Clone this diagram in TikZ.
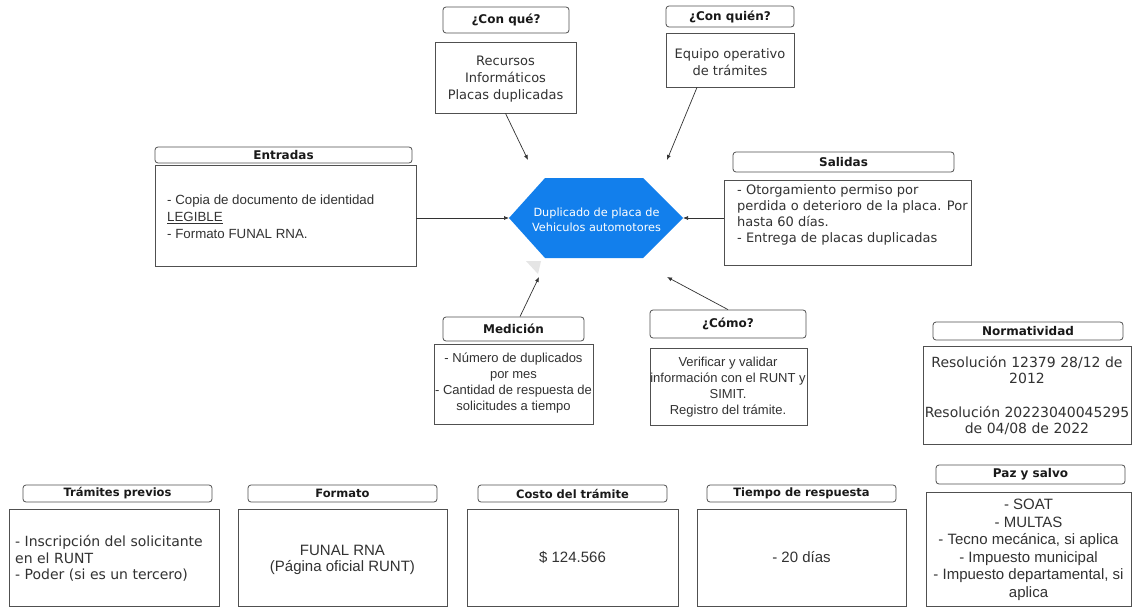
\documentclass[tikz,border=0pt]{standalone}
\usepackage{fontspec}
\setmainfont{Liberation Sans}
\newfontfamily\verd{DejaVu Sans}
\newfontfamily\arl{Liberation Sans}
\usetikzlibrary{arrows.meta,calc}
\definecolor{hexblue}{RGB}{18,127,236}
\definecolor{edge}{RGB}{80,80,80}
\definecolor{ink}{RGB}{50,50,50}
\tikzset{
 hdr/.style={draw=edge, line width=0.8pt, rounded corners=3pt, fill=white, inner sep=0pt, text=black!90, font=\verd\bfseries\fontsize{12}{14}\selectfont},
 hdrsm/.style={hdr, font=\verd\bfseries\fontsize{11.5}{14}\selectfont},
 bodybox/.style={draw=edge, line width=0.8pt, inner sep=0pt, fill=white},
 vtxt/.style={inner sep=0pt, text=ink, font=\verd\fontsize{13}{16.7}\selectfont},
 atxt/.style={inner sep=0pt, text=ink, font=\arl\fontsize{13}{16}\selectfont},
 conn/.style={draw=ink, line width=0.7pt, -{Latex[length=5pt,width=4pt]}},
}
\begin{document}
\begin{tikzpicture}[x=1pt,y=-1pt]
\useasboundingbox (0,0) rectangle (1132,607);
\fill[white] (0,0) rectangle (1132,607);

% ---------- centre hexagon ----------
\coordinate (hL) at (509,218);
\coordinate (hR) at (683,218);
\fill[hexblue] (hL) -- (545,178) -- (643,178) -- (hR) -- (643,258) -- (545,258) -- cycle;
\node[inner sep=0pt, text=white, align=center, font=\verd\fontsize{11.3}{15}\selectfont] (hex) at (596.5,220) {Duplicado de placa de\\Vehiculos automotores};
\fill[black!10] (526,261) -- (541,261) -- (538,274) -- cycle;

% ---------- ¿Con qué? ----------
\node[hdr, minimum width=126pt, minimum height=26pt] (cqH) at (506,20) {¿Con qué?};
\node[bodybox, minimum width=141pt, minimum height=71pt] (cqB) at (505.5,77.5) {};
\node[vtxt, align=center] (cqT) at (505.5,79) {Recursos\\Informáticos\\Placas duplicadas};

% ---------- ¿Con quién? ----------
\node[hdr, minimum width=128pt, minimum height=21pt] (cwH) at (730,16.5) {¿Con quién?};
\node[bodybox, minimum width=128pt, minimum height=54pt] (cwB) at (730,60) {};
\node[vtxt, align=center] (cwT) at (730,62) {Equipo operativo\\de trámites};

% ---------- Entradas ----------
\node[hdr, minimum width=257pt, minimum height=16pt] (enH) at (283.5,155) {Entradas};
\node[bodybox, minimum width=261pt, minimum height=101pt] (enB) at (285.5,215.5) {};
\node[atxt, align=left, anchor=west, font=\arl\fontsize{13.3}{17}\selectfont] (enT) at (167,217) {- Copia de documento de identidad\\\underline{LEGIBLE}\\- Formato FUNAL RNA.};

% ---------- Salidas ----------
\node[hdr, minimum width=221pt, minimum height=20pt] (saH) at (843.5,162) {Salidas};
\node[bodybox, minimum width=247pt, minimum height=85pt] (saB) at (847.5,222.5) {};
\node[vtxt, align=left, anchor=west, font=\verd\fontsize{13}{16}\selectfont] (saT) at (737,215) {- Otorgamiento permiso por\\perdida o deterioro de la placa. Por\\hasta 60 días.\\- Entrega de placas duplicadas};

% ---------- Medición ----------
\node[hdr, minimum width=141pt, minimum height=24pt] (meH) at (513.5,329) {Medición};
\node[bodybox, minimum width=159pt, minimum height=80pt] (meB) at (513.5,384) {};
\node[atxt, align=center] (meT) at (513.5,383.5) {- Número de duplicados\\por mes\\- Cantidad de respuesta de\\solicitudes a tiempo};

% ---------- ¿Cómo? ----------
\node[hdr, minimum width=156pt, minimum height=28pt] (coH) at (728,324) {¿Cómo?};
\node[bodybox, minimum width=157pt, minimum height=77pt] (coB) at (728.5,386.5) {};
\node[atxt, align=center] (coT) at (728,387) {Verificar y validar\\información con el RUNT y\\SIMIT.\\Registro del trámite.};

% ---------- Normatividad ----------
\node[hdr, minimum width=190pt, minimum height=18pt] (noH) at (1028,331) {Normatividad};
\node[bodybox, minimum width=208pt, minimum height=98pt] (noB) at (1027,395) {};
\node[vtxt, align=center, font=\verd\fontsize{14}{16.7}\selectfont] (noT) at (1027,395.5) {Resolución 12379 28/12 de\\2012\\[16.7pt]Resolución 20223040045295\\de 04/08 de 2022};

% ---------- Paz y salvo ----------
\node[hdr, minimum width=189pt, minimum height=19pt] (pzH) at (1030.5,474.5) {Paz y salvo};
\node[bodybox, minimum width=205pt, minimum height=114pt] (pzB) at (1028.5,549) {};
\node[atxt, align=center, font=\arl\fontsize{15}{17.5}\selectfont] (pzT) at (1028.5,550) {- SOAT\\- MULTAS\\- Tecno mecánica, si aplica\\- Impuesto municipal\\- Impuesto departamental, si\\aplica};

% ---------- bottom row ----------
\node[hdrsm, minimum width=189pt, minimum height=17pt] (tpH) at (117.5,493.5) {Trámites previos};
\node[bodybox, minimum width=210pt, minimum height=97pt] (tpB) at (114,557.5) {};
\node[vtxt, align=left, anchor=west, font=\verd\fontsize{14}{16.7}\selectfont] (tpT) at (15,558.5) {- Inscripción del solicitante\\en el RUNT\\- Poder (si es un tercero)};

\node[hdrsm, minimum width=189pt, minimum height=17pt] (fmH) at (342.5,493.5) {Formato};
\node[bodybox, minimum width=209pt, minimum height=97pt] (fmB) at (342.5,557.5) {};
\node[atxt, align=center, font=\arl\fontsize{15}{16}\selectfont] (fmT) at (342.5,560) {FUNAL RNA\\(Página oficial RUNT)};

\node[hdrsm, minimum width=189pt, minimum height=17pt] (ctH) at (572.5,493.5) {Costo del trámite};
\node[bodybox, minimum width=211pt, minimum height=97pt] (ctB) at (572.5,557.5) {};
\node[atxt, font=\arl\fontsize{15}{16}\selectfont] (ctT) at (572.5,557) {\$ 124.566};

\node[hdrsm, minimum width=189pt, minimum height=17pt] (trH) at (801.5,493.5) {Tiempo de respuesta};
\node[bodybox, minimum width=209pt, minimum height=97pt] (trB) at (801.5,557.5) {};
\node[atxt, font=\arl\fontsize{15}{16}\selectfont] (trT) at (801.5,557) {- 20 días};

% ---------- connectors ----------
\coordinate (cqE) at (528,160);
\coordinate (cwE) at (667,160);
\coordinate (meE) at (539,277);
\coordinate (coE) at (667,277);
\draw[conn] (cqB.south) -- (cqE);
\draw[conn] ([xshift=-33pt]cwB.south) -- (cwE);
\draw[conn] (enB.east |- hL) -- (hL);
\draw[conn] (saB.west |- hR) -- (hR);
\draw[conn] ([xshift=6.5pt]meH.north) -- (meE);
\draw[conn] (coH.north) -- (coE);
\end{tikzpicture}
\end{document}
